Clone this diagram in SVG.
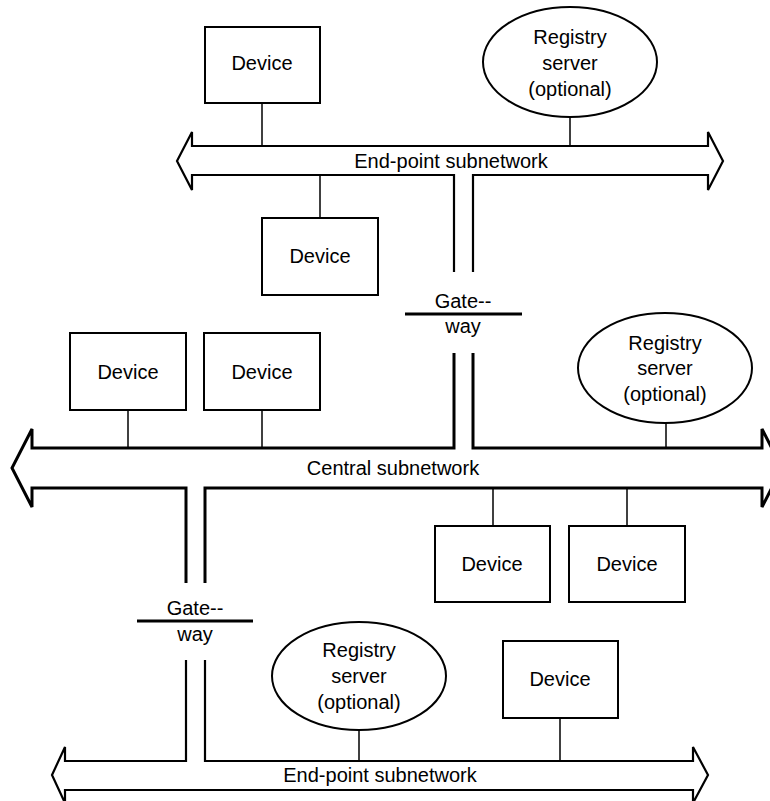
<svg xmlns="http://www.w3.org/2000/svg" width="770" height="801" viewBox="0 0 770 801">
<style>
text{font-family:"Liberation Sans",Arial,sans-serif;font-size:20px;fill:#000;text-anchor:middle}
.box{fill:#fff;stroke:#000;stroke-width:2}
.link{fill:none;stroke:#000;stroke-width:1.5}
.bus{fill:none;stroke:#000;stroke-width:2.2;stroke-linejoin:miter}
.busc{fill:none;stroke:#000;stroke-width:3;stroke-linejoin:miter}
.gw{stroke:#000;stroke-width:3}
</style>
<rect width="770" height="801" fill="#fff"/>
<g id="connectors">
<line class="link" x1="262" y1="103" x2="262" y2="146"/>
<line class="link" x1="570" y1="117" x2="570" y2="146"/>
<line class="link" x1="320" y1="175" x2="320" y2="218"/>
<line class="link" x1="128" y1="410" x2="128" y2="448"/>
<line class="link" x1="262" y1="410" x2="262" y2="448"/>
<line class="link" x1="666" y1="423" x2="666" y2="448"/>
<line class="link" x1="493" y1="488" x2="493" y2="526"/>
<line class="link" x1="627" y1="488" x2="627" y2="526"/>
<line class="link" x1="359" y1="730" x2="359" y2="761"/>
<line class="link" x1="560" y1="718" x2="560" y2="761"/>
</g>
<g id="top-subnetwork">
<path class="bus" d="M454,272 V175 H192 V190 L177,161 L192,132 V146 H708 V132 L723,161 L708,190 V175 H473 V272"/>
<text x="451" y="168">End-point subnetwork</text>
</g>
<g id="central-subnetwork">
<path class="busc" d="M454,353 V448 H32 V429 L12,468 L32,507 V488 H186 V583"/>
<path class="busc" d="M205,583 V488 H762 V507 L782,468 L762,429 V448 H473 V353"/>
<text x="393" y="475">Central subnetwork</text>
</g>
<g id="bottom-subnetwork">
<path class="bus" d="M186,660 V761 H65 V747 L52,775 L65,803 V790 H693 V803 L708,775 L693,747 V761 H205 V660"/>
<text x="380" y="782">End-point subnetwork</text>
</g>
<g id="device-1"><rect class="box" x="205" y="27" width="115" height="76"/><text x="262" y="70">Device</text></g>
<g id="registry-1"><ellipse class="box" cx="570" cy="62" rx="87" ry="55"/><text x="570" y="44">Registry</text><text x="570" y="70">server</text><text x="570" y="96">(optional)</text></g>
<g id="device-2"><rect class="box" x="262" y="218" width="116" height="77"/><text x="320" y="263">Device</text></g>
<g id="gateway-1"><text x="463" y="308">Gate--</text><line class="gw" x1="405" y1="314" x2="522" y2="314"/><text x="463" y="333">way</text></g>
<g id="device-3"><rect class="box" x="70" y="333" width="116" height="77"/><text x="128" y="379">Device</text></g>
<g id="device-4"><rect class="box" x="204" y="333" width="116" height="77"/><text x="262" y="379">Device</text></g>
<g id="registry-2"><ellipse class="box" cx="665" cy="368" rx="87" ry="55"/><text x="665" y="350">Registry</text><text x="665" y="375">server</text><text x="665" y="401">(optional)</text></g>
<g id="device-5"><rect class="box" x="435" y="526" width="115" height="76"/><text x="492" y="571">Device</text></g>
<g id="device-6"><rect class="box" x="569" y="526" width="116" height="76"/><text x="627" y="571">Device</text></g>
<g id="gateway-2"><text x="195" y="615">Gate--</text><line class="gw" x1="137" y1="621" x2="253" y2="621"/><text x="195" y="641">way</text></g>
<g id="registry-3"><ellipse class="box" cx="359" cy="676" rx="87" ry="54"/><text x="359" y="657">Registry</text><text x="359" y="683">server</text><text x="359" y="709">(optional)</text></g>
<g id="device-7"><rect class="box" x="503" y="641" width="115" height="77"/><text x="560" y="686">Device</text></g>
</svg>
